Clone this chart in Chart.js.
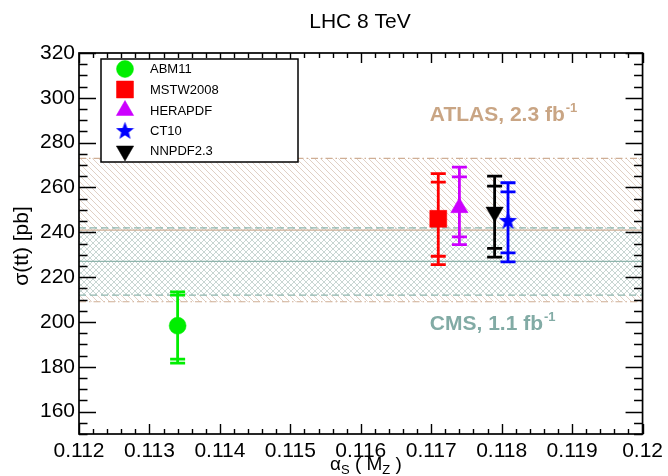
<!DOCTYPE html>
<html><head><meta charset="utf-8">
<script src="https://cdn.jsdelivr.net/npm/chart.js@4"></script>
<style>html,body{margin:0;padding:0;background:#fff;}#wrap{position:relative;width:668px;height:476px;}</style>
</head><body><div id="wrap"><canvas id="c" width="668" height="476"></canvas></div>
<script>
// ---- data ----
const pdfNames = ['ABM11', 'MSTW2008', 'HERAPDF', 'CT10', 'NNPDF2.3'];
const alphaS   = [0.1134, 0.1171, 0.1174, 0.11809, 0.1179];
const sigma    = [198.3, 246.0, 251.0, 245.3, 249.0];
const innerHi  = [212.0, 262.4, 264.7, 258.0, 260.6];
const innerLo  = [183.4, 229.3, 238.0, 230.8, 232.8];
const outerHi  = [213.4, 266.2, 269.1, 262.1, 265.1];
const outerLo  = [181.6, 225.6, 234.5, 226.8, 228.9];
const bandNames  = ['ATLAS, 2.3 fb', 'CMS, 1.1 fb'];
const bandLumiSup = ['-1', '-1'];
const bandCenter = [241, 227];
const bandError  = [32, 15];
const xTicks = [0.112, 0.113, 0.114, 0.115, 0.116, 0.117, 0.118, 0.119, 0.120];
const xTickLabels = ['0.112', '0.113', '0.114', '0.115', '0.116', '0.117', '0.118', '0.119', '0.12'];
const yTicks = [160, 180, 200, 220, 240, 260, 280, 300, 320];

// ---- styles ----
const FONT = '"Liberation Sans", Arial, Helvetica, sans-serif';
const pdfColors = ['#00ee00', '#ff0000', '#cc00ff', '#0000ff', '#000000'];
const XMIN = 0.112, XMAX = 0.120, YMIN = 150, YMAX = 320;

function starImage(color, size) {
  const c = document.createElement('canvas');
  c.width = c.height = size;
  const g = c.getContext('2d');
  const cx = size / 2, cy = size / 2 + 0.8, R = size / 2, r = R * 0.42;
  g.beginPath();
  for (let i = 0; i < 10; i++) {
    const a = -Math.PI / 2 + i * Math.PI / 5;
    const rr = i % 2 ? r : R;
    g.lineTo(cx + rr * Math.cos(a), cy + rr * Math.sin(a));
  }
  g.closePath();
  g.fillStyle = color; g.fill();
  return c;
}
const star = starImage('#0000ff', 19);
const pdfStyles = [
  {pointStyle: 'circle', radius: 8.5, rotation: 0},
  {pointStyle: 'rect', radius: 12, rotation: 0},
  {pointStyle: 'triangle', radius: 10, rotation: 0},
  {pointStyle: star, radius: 9, rotation: 0},
  {pointStyle: 'triangle', radius: 10, rotation: 180},
];

function hatch(color, cross, bg) {
  const s = 6;
  const c = document.createElement('canvas');
  c.width = c.height = s;
  const g = c.getContext('2d');
  if (bg) { g.fillStyle = bg; g.fillRect(0, 0, s, s); }
  g.strokeStyle = color; g.lineWidth = 1;
  g.beginPath();
  g.moveTo(0, 0); g.lineTo(s, s);
  g.moveTo(s - 1, -1); g.lineTo(s + 1, 1);
  g.moveTo(-1, s - 1); g.lineTo(1, s + 1);
  if (cross) {
    g.moveTo(0, s); g.lineTo(s, 0);
    g.moveTo(-1, 1); g.lineTo(1, -1);
    g.moveTo(s - 1, s + 1); g.lineTo(s + 1, s - 1);
  }
  g.stroke();
  return g.createPattern(c, 'repeat');
}
const ctx = document.getElementById('c').getContext('2d');
const atlasPattern = hatch('rgba(224,208,196,1)', false, null);
const cmsPattern = hatch('rgba(200,214,210,1)', true, '#ffffff');
const atlasColor = '#c9a584', cmsColor = '#82aba5';
const bandLine = ['#cfae95', '#8fb5ad'];

function flat(v) { return [{x: XMIN, y: v}, {x: XMAX, y: v}]; }
const common = {pointRadius: 0, borderWidth: 1.2, tension: 0};
const datasets = [
  {...common, data: flat(bandCenter[0] + bandError[0]), borderColor: bandLine[0], borderDash: [7, 3, 1.5, 3], fill: '+1', backgroundColor: atlasPattern, order: 10},
  {...common, data: flat(bandCenter[0] - bandError[0]), borderColor: bandLine[0], borderDash: [7, 3, 1.5, 3], fill: false, order: 9},
  {...common, data: flat(bandCenter[1] + bandError[1]), borderColor: bandLine[1], borderDash: [7, 4], fill: '+1', backgroundColor: cmsPattern, order: 8},
  {...common, data: flat(bandCenter[1] - bandError[1]), borderColor: bandLine[1], borderDash: [7, 4], fill: false, order: 7},
  {...common, data: flat(bandCenter[0]), borderColor: bandLine[0], fill: false, order: 6},
  {...common, data: flat(bandCenter[1]), borderColor: bandLine[1], fill: false, order: 5},
];
pdfNames.forEach((n, i) => {
  datasets.push({
    label: n, showLine: false, data: [{x: alphaS[i], y: sigma[i]}],
    pointStyle: pdfStyles[i].pointStyle, pointRadius: pdfStyles[i].radius,
    pointRotation: pdfStyles[i].rotation,
    backgroundColor: pdfColors[i], borderColor: pdfColors[i], pointBorderWidth: 0.5,
    order: 0, errIndex: i
  });
});

const errorBars = {
  id: 'errorBars',
  beforeDatasetDraw(chart, args) {
    const ds = chart.data.datasets[args.index];
    if (ds.errIndex === undefined) return;
    const i = ds.errIndex, x = chart.scales.x, y = chart.scales.y, c = chart.ctx;
    const px = x.getPixelForValue(alphaS[i]);
    c.save();
    c.strokeStyle = pdfColors[i]; c.lineWidth = 2.8;
    c.beginPath();
    c.moveTo(px, y.getPixelForValue(outerLo[i])); c.lineTo(px, y.getPixelForValue(outerHi[i]));
    [innerHi[i], innerLo[i], outerHi[i], outerLo[i]].forEach(v => {
      const py = y.getPixelForValue(v);
      c.moveTo(px - 7.5, py); c.lineTo(px + 7.5, py);
    });
    c.stroke();
    c.restore();
  }
};

function drawMarker(c, i, x, y) {
  const st = pdfStyles[i];
  if (Chart.helpers && Chart.helpers.drawPoint) {
    c.save();
    c.fillStyle = pdfColors[i]; c.strokeStyle = pdfColors[i]; c.lineWidth = 0.5;
    Chart.helpers.drawPoint(c, {pointStyle: st.pointStyle, radius: st.radius, rotation: st.rotation, borderWidth: 0.5}, x, y);
    c.restore();
  }
}

const frame = {
  id: 'frame',
  afterDraw(chart) {
    const c = chart.ctx, a = chart.chartArea, xs = chart.scales.x, ys = chart.scales.y;
    c.save();
    // band labels
    const lbl = [[0.11698, 289.5], [0.11698, 196.5]];
    const cols = [atlasColor, cmsColor];
    for (let k = 0; k < 2; k++) {
      const px = xs.getPixelForValue(lbl[k][0]), py = ys.getPixelForValue(lbl[k][1]);
      c.fillStyle = cols[k];
      c.font = 'bold 21px ' + FONT; c.textAlign = 'left'; c.textBaseline = 'alphabetic';
      c.fillText(bandNames[k], px, py);
      const w = c.measureText(bandNames[k]).width;
      c.font = 'bold 13px ' + FONT;
      c.fillText(bandLumiSup[k], px + w + 1, py - 9);
    }
    // ticks inside frame
    c.strokeStyle = '#000'; c.lineWidth = 1.4;
    c.beginPath();
    for (let k = 0; k <= 40; k++) {
      const v = XMIN + k * 0.0002;
      const px = Math.round(xs.getPixelForValue(v)) + 0.5;
      const L = (k % 5 === 0) ? 10 : 5;
      c.moveTo(px, a.bottom); c.lineTo(px, a.bottom - L);
      c.moveTo(px, a.top); c.lineTo(px, a.top + L);
    }
    for (let v = YMIN; v <= YMAX; v += 5) {
      const py = Math.round(ys.getPixelForValue(v)) + 0.5;
      const L = ((v - 160) % 20 === 0) ? 17 : 8.5;
      c.moveTo(a.left, py); c.lineTo(a.left + L, py);
      c.moveTo(a.right, py); c.lineTo(a.right - L, py);
    }
    c.stroke();
    c.lineWidth = 1.7;
    c.strokeRect(a.left, a.top, a.right - a.left, a.bottom - a.top);
    // legend
    c.fillStyle = '#fff'; c.lineWidth = 1.5;
    c.fillRect(101, 59, 197, 103);
    c.strokeRect(101, 59, 197, 103);
    const rows = [69, 89.5, 110.5, 130.5, 151];
    c.font = '13px ' + FONT; c.textBaseline = 'middle'; c.textAlign = 'left';
    for (let i = 0; i < pdfNames.length; i++) {
      drawMarker(c, i, 125, rows[i]);
      c.fillStyle = '#000';
      c.fillText(pdfNames[i], 150, rows[i] + 0.5);
    }
    // title
    c.fillStyle = '#000';
    c.font = '21px ' + FONT; c.textAlign = 'center'; c.textBaseline = 'middle';
    c.fillText('LHC 8 TeV', 360, 22);
    // y title
    c.save();
    c.translate(22, 246); c.rotate(-Math.PI / 2);
    c.font = '21px ' + FONT; c.textAlign = 'center'; c.textBaseline = 'middle';
    c.fillText('σ(tt) [pb]', 0, 0);
    c.restore();
    // x title
    c.textAlign = 'left'; c.textBaseline = 'alphabetic';
    let xx = 330; const by = 470;
    const parts = [['α', 19, 0], ['S', 13, 4], [' ( M', 19, 0], ['Z', 13, 4], [' )', 19, 0]];
    parts.forEach(p => {
      c.font = p[1] + 'px ' + FONT;
      c.fillText(p[0], xx, by + p[2]);
      xx += c.measureText(p[0]).width;
    });
    c.restore();
  }
};

new Chart(ctx, {
  type: 'line',
  data: {datasets},
  options: {
    responsive: false, animation: false, devicePixelRatio: 1, events: [],
    layout: {padding: {top: 53, right: 25, left: 0, bottom: 0}},
    plugins: {legend: {display: false}, tooltip: {enabled: false}, title: {display: false}},
    scales: {
      x: {
        type: 'linear', min: XMIN, max: XMAX,
        grid: {display: false, drawTicks: false}, border: {display: false},
        afterBuildTicks: s => { s.ticks = xTicks.map(v => ({value: v})); },
        afterFit: s => { s.height = 42; },
        ticks: {color: '#000', padding: 5, maxRotation: 0, autoSkip: false,
          font: {family: FONT, size: 21},
          callback: (v, i) => xTickLabels[i]}
      },
      y: {
        type: 'linear', min: YMIN, max: YMAX,
        grid: {display: false, drawTicks: false}, border: {display: false},
        afterBuildTicks: s => { s.ticks = yTicks.map(v => ({value: v})); },
        afterFit: s => { s.width = 79; },
        ticks: {color: '#000', padding: 4, autoSkip: false,
          font: {family: FONT, size: 21},
          callback: (v, i) => String(yTicks[i])}
      }
    }
  },
  plugins: [errorBars, frame]
});
</script></body></html>
